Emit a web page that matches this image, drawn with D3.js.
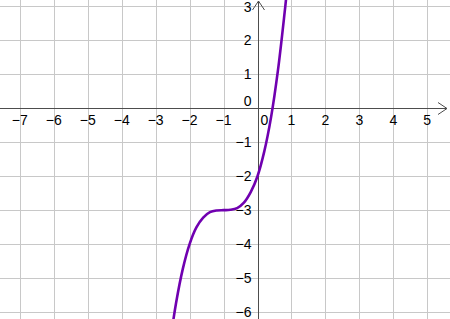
<!DOCTYPE html>
<html lang="en">
<head>
    <meta charset="UTF-8">
    <title>Cubic graph</title>
    <script src="https://d3js.org/d3.v7.min.js"></script>
    <style>
        body { margin: 0; background: #fff; }
        svg { display: block; font-family: Arial, "Liberation Sans", sans-serif; }
    </style>
</head>
<body>
    <div id="chart"></div>
    <script>
        // tick values on each axis
        const xTicks = [-7, -6, -5, -4, -3, -2, -1, 0, 1, 2, 3, 4, 5];
        const yTicks = [-6, -5, -4, -3, -2, -1, 0, 1, 2, 3];

        // points
        const curveX = [-2.5, -2.4, -2.2, -2.0, -1.8, -1.6, -1.4, -1.2, -1.0, -0.8, -0.6, -0.4, -0.2, 0, 0.2, 0.4, 0.6, 0.8, 0.86];
        const curveY = [-6.38, -5.74, -4.73, -4.0, -3.51, -3.22, -3.06, -3.01, -3.0, -2.99, -2.94, -2.78, -2.47, -2.0, -1.27, -0.26, 1.10, 2.83, 3.4];

        const width = 450, height = 319;
        const unit = 33.95;
        const ox = 257.5, oy = 108.3; // origin in pixels

        const x = d3.scaleLinear().domain([0, 1]).range([ox, ox + unit]);
        const y = d3.scaleLinear().domain([0, 1]).range([oy, oy - unit]);

        const svg = d3.select('#chart').append('svg')
            .attr('width', width)
            .attr('height', height);

        svg.append('defs').append('clipPath').attr('id', 'clip')
            .append('rect').attr('width', width).attr('height', height);

        // grid
        const grid = svg.append('g').attr('stroke', '#c8c8c8').attr('stroke-width', 1);
        grid.selectAll('.gx').data(xTicks.filter(d => d !== 0)).enter().append('line')
            .attr('x1', d => Math.round(x(d)) + 0.5).attr('x2', d => Math.round(x(d)) + 0.5)
            .attr('y1', 0).attr('y2', height);
        grid.selectAll('.gy').data(yTicks.filter(d => d !== 0)).enter().append('line')
            .attr('y1', d => Math.round(y(d)) + 0.5).attr('y2', d => Math.round(y(d)) + 0.5)
            .attr('x1', 0).attr('x2', width);

        // axes
        const ax = svg.append('g').attr('stroke', '#4d4d4d').attr('stroke-width', 1).attr('fill', 'none');
        const axY = Math.round(oy) + 0.5, axX = Math.round(ox) + 0.5;
        ax.append('line').attr('x1', 0).attr('x2', width - 3).attr('y1', axY).attr('y2', axY);
        ax.append('line').attr('x1', axX).attr('x2', axX).attr('y1', 1).attr('y2', height);
        ax.append('path').attr('d', `M${width - 12},${axY - 6}L${width - 3},${axY}L${width - 12},${axY + 6}`);
        ax.append('path').attr('d', `M${axX - 6},${10}L${axX},${1}L${axX + 6},${10}`);

        // tick labels
        const fmt = d => d < 0 ? '\u2212' + Math.abs(d) : String(d);
        svg.append('g').attr('font-size', 14).attr('fill', '#000').attr('text-anchor', 'middle')
            .selectAll('text').data(xTicks).enter().append('text')
            .attr('x', d => d === 0 ? x(d) + 7 : x(d))
            .attr('y', oy + 17)
            .text(fmt);
        svg.append('g').attr('font-size', 14).attr('fill', '#000').attr('text-anchor', 'end')
            .selectAll('text').data(yTicks).enter().append('text')
            .attr('x', ox - 6)
            .attr('y', d => d === 0 ? oy - 2 : (d === 3 ? y(d) + 6 : y(d) + 5))
            .text(fmt);

        // curve
        const pts = curveX.map((v, i) => [v, curveY[i]]);
        const line = d3.line()
            .x(d => x(d[0]))
            .y(d => y(d[1]))
            .curve(d3.curveCatmullRom);
        svg.append('path')
            .attr('clip-path', 'url(#clip)')
            .datum(pts)
            .attr('d', line)
            .attr('fill', 'none')
            .attr('stroke', '#7000b0')
            .attr('stroke-width', 2.6);
    </script>
</body>
</html>
